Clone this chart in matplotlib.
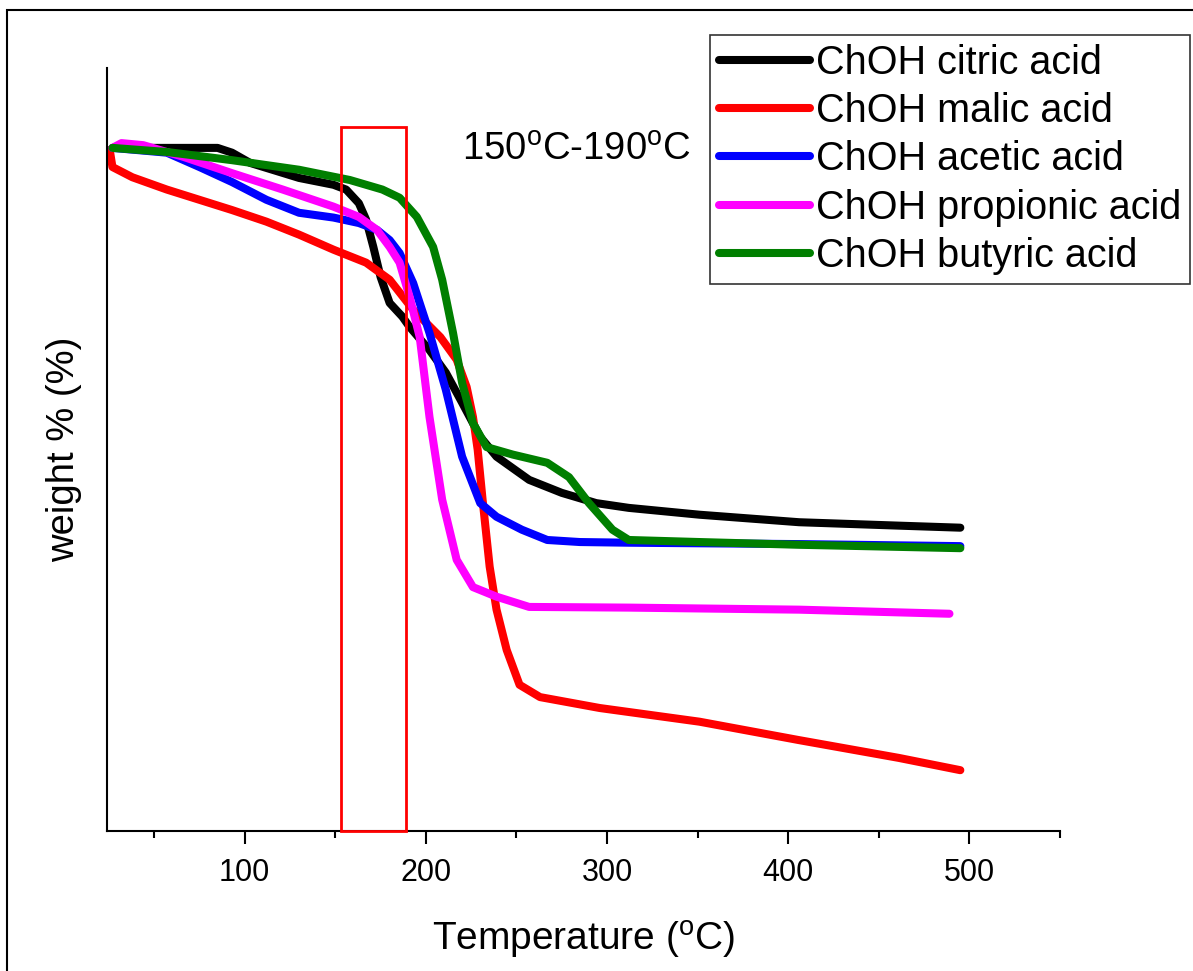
import matplotlib.pyplot as plt
from matplotlib.patches import Rectangle

plt.rcParams['font.family'] = ['Liberation Sans', 'DejaVu Sans']
plt.rcParams['mathtext.fontset'] = 'custom'
plt.rcParams['mathtext.rm'] = 'Liberation Sans'

# TGA curves (temperature in C, weight in arbitrary %)
citricT = [27, 85, 93, 103, 130, 149, 156, 163, 167, 171, 175, 180, 187, 191, 202, 211, 220, 230, 239, 257, 275, 294, 312, 351, 406, 461, 495]
citricW = [100.0, 100.0, 99.3, 97.8, 95.6, 94.6, 93.9, 91.9, 89.5, 85.5, 81.1, 77.3, 75.3, 73.8, 70.4, 67.1, 62.7, 57.7, 54.8, 51.4, 49.5, 48.0, 47.3, 46.3, 45.2, 44.7, 44.4]

malicT = [25.5, 27, 38, 57, 75, 93, 112, 130, 149, 167, 180, 193, 208, 217, 222.5, 226, 228.6, 231.3, 235.2, 239, 244.6, 251.7, 263, 296, 351, 406, 461, 495]
malicW = [99.7, 97.2, 95.7, 93.9, 92.4, 90.9, 89.2, 87.3, 85.1, 83.2, 80.7, 76.3, 72.3, 69.0, 65.0, 60.6, 55.8, 48.5, 38.7, 32.4, 26.5, 21.4, 19.6, 18.0, 16.0, 13.3, 10.7, 8.9]

aceticT = [27, 57, 75, 93, 112, 130, 149, 163, 173, 180, 185.5, 193, 202, 211, 220, 230, 239, 253, 267, 285, 312, 406, 495]
aceticW = [100.0, 99.3, 97.2, 95.0, 92.4, 90.5, 89.8, 89.0, 88.0, 86.5, 84.6, 80.2, 72.9, 64.6, 54.8, 48.0, 46.0, 44.1, 42.6, 42.3, 42.2, 42.0, 41.7]

propionicT = [27, 32, 44, 66, 93, 121, 149, 163, 173, 180, 185.5, 191, 196.6, 202, 209, 217, 226, 239, 257, 312, 406, 489]
propionicW = [100.0, 100.7, 100.4, 98.7, 96.3, 93.9, 91.4, 89.9, 88.0, 85.5, 83.2, 78.2, 72.3, 60.6, 48.5, 39.7, 35.7, 34.3, 32.8, 32.7, 32.4, 31.8]

butyricT = [27, 57, 93, 130, 158, 176, 185.5, 195, 204, 209, 215, 220, 226, 233.5, 248, 267, 279, 290, 303, 312, 351, 406, 495]
butyricW = [100.0, 99.4, 98.2, 96.8, 95.3, 93.9, 92.7, 89.9, 85.5, 80.7, 72.9, 65.6, 59.7, 56.2, 55.1, 53.9, 51.8, 48.0, 44.1, 42.6, 42.3, 41.9, 41.4]

labels = ["ChOH citric acid", "ChOH malic acid", "ChOH acetic acid", "ChOH propionic acid", "ChOH butyric acid"]
colors = ["black", "#ff0000", "#0000ff", "#ff00ff", "#007f00"]

fig = plt.figure(figsize=(11.93, 9.71), dpi=100)
ax = fig.add_axes([0.0897, 0.1442, 0.7988, 0.7858])

allT = [citricT, malicT, aceticT, propionicT, butyricT]
allW = [citricW, malicW, aceticW, propionicW, butyricW]
lines = []
for i in range(5):
    l, = ax.plot(allT[i], allW[i], color=colors[i], linewidth=5.8, solid_capstyle='round', solid_joinstyle='round', label=labels[i])
    lines.append(l)

# highlight box
ax.add_patch(Rectangle((153, 0), 36, 103.1, fill=False, edgecolor='#ff0000', linewidth=2.0, zorder=5, clip_on=False))
ax.text(219.7, 98.2, r"150$^{\rm o}$C-190$^{\rm o}$C", fontsize=27.5, va='baseline', ha='left')

ax.set_xlim(24, 550)
ax.set_ylim(0, 111.7)
ax.set_xticks([100, 200, 300, 400, 500])
ax.set_xticks([50, 150, 250, 350, 450, 550], minor=True)
ax.set_yticks([])
ax.spines['top'].set_visible(False)
ax.spines['right'].set_visible(False)
ax.spines['left'].set_linewidth(1.5)
ax.spines['bottom'].set_linewidth(1.5)
ax.tick_params(axis='x', which='major', direction='out', length=9.5, width=1.5, labelsize=22, pad=10)
ax.tick_params(axis='x', which='minor', direction='out', length=5, width=1.5)

ax.set_xlabel(r"Temperature ($^{\rm o}$C)", fontsize=28, labelpad=22)
ax.set_ylabel("weight % (%)", fontsize=27.5, labelpad=18)

leg = fig.legend(handles=lines, loc='upper right', bbox_to_anchor=(1190 / 1193, 1 - 35 / 971), fontsize=28.5,
                 frameon=True, fancybox=False, edgecolor='#333333', framealpha=1, handlelength=2.3,
                 handletextpad=0.15, labelspacing=0.26, borderpad=0.22, borderaxespad=0)
leg.get_frame().set_linewidth(1.2)

# outer frame around the whole figure
fig.patches.append(Rectangle((7 / 1193, -0.01), 1.02, 1 - 10 / 971 + 0.01, transform=fig.transFigure,
                             fill=False, edgecolor='black', linewidth=1.5))

fig.savefig("out.png", dpi=100)
